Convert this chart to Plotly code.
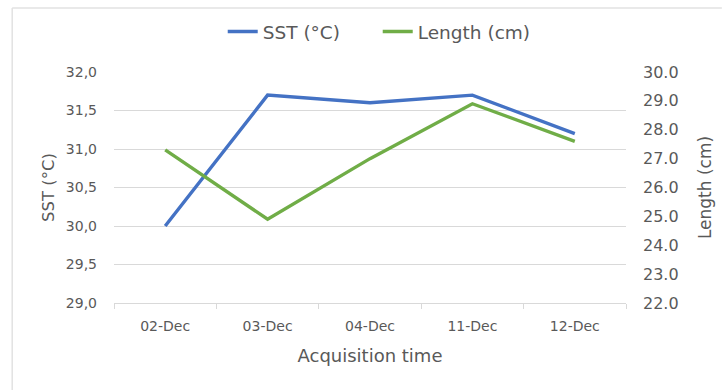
import plotly.graph_objects as go

# Acquisition dates and measured series
dates = ["02-Dec", "03-Dec", "04-Dec", "11-Dec", "12-Dec"]
sst_c = [30.0, 31.7, 31.6, 31.7, 31.2]
length_cm = [27.3, 24.9, 27.0, 28.9, 27.6]

# Left-axis ticks (decimal comma labels)
sst_ticks = [29.0, 29.5, 30.0, 30.5, 31.0, 31.5, 32.0]
sst_ticktext = [f"{v:.1f}".replace(".", ",") for v in sst_ticks]

BLUE = "#4472C4"
GREEN = "#70AD47"
GRID = "#d9d9d9"
TXT = "#595959"
FONT = "DejaVu Sans"

W, H = 724, 390
ML, MR, MT, MB = 114, 92, 72, 87
PW, PH = W - ML - MR, H - MT - MB

fig = go.Figure()
fig.add_trace(go.Scatter(x=dates, y=sst_c, name="SST (°C)", mode="lines",
                         line=dict(color=BLUE, width=3.4), yaxis="y"))
fig.add_trace(go.Scatter(x=dates, y=length_cm, name="Length (cm)", mode="lines",
                         line=dict(color=GREEN, width=3.4), yaxis="y2"))


def px_x(p):
    return (p - ML) / PW


def px_y(p):
    return 1 - (p - MT) / PH


# Thin outer frame of the chart area (left and top edges)
frame = dict(type="line", xref="paper", yref="paper",
             line=dict(color="#e2e2e2", width=1.5), layer="below")
fig.add_shape(**frame, x0=px_x(11), x1=px_x(11), y0=px_y(H + 5), y1=px_y(8))
fig.add_shape(**frame, x0=px_x(11), x1=px_x(W + 5), y0=px_y(8), y1=px_y(8))

fig.update_layout(
    width=W, height=H,
    margin=dict(l=ML, r=MR, t=MT, b=MB),
    paper_bgcolor="white", plot_bgcolor="white",
    font=dict(family=FONT, size=14, color=TXT),
    showlegend=True,
    legend=dict(orientation="h", x=px_x(224), xanchor="left",
                y=px_y(32), yanchor="middle",
                font=dict(family=FONT, size=18.5, color=TXT),
                entrywidth=110, entrywidthmode="pixels",
                bgcolor="rgba(0,0,0,0)"),
    xaxis=dict(
        type="category", range=[-0.5, 4.5],
        tickson="boundaries", ticks="outside", ticklen=5, tickcolor=GRID,
        showline=True, linecolor=GRID, linewidth=1,
        showgrid=False, zeroline=False,
        tickfont=dict(family=FONT, size=14, color=TXT),
        ticklabelstandoff=10,
        title=dict(text="Acquisition time", standoff=16,
                   font=dict(family=FONT, size=18, color=TXT)),
    ),
    yaxis=dict(
        range=[29, 32], tickvals=sst_ticks, ticktext=sst_ticktext,
        showgrid=True, gridcolor=GRID, gridwidth=1,
        showline=False, zeroline=False, ticks="",
        ticklabelstandoff=16,
        tickfont=dict(family=FONT, size=14, color=TXT),
        title=dict(text="SST (°C)", standoff=7,
                   font=dict(family=FONT, size=16.5, color=TXT)),
    ),
    yaxis2=dict(
        overlaying="y", side="right", range=[22, 30], dtick=1,
        tickformat=".1f", showgrid=False, showline=False, zeroline=False,
        ticks="", ticklabelstandoff=16,
        tickfont=dict(family=FONT, size=16, color=TXT),
        title=dict(text="Length (cm)", standoff=21,
                   font=dict(family=FONT, size=17, color=TXT)),
    ),
)

fig.write_html("out.html")
